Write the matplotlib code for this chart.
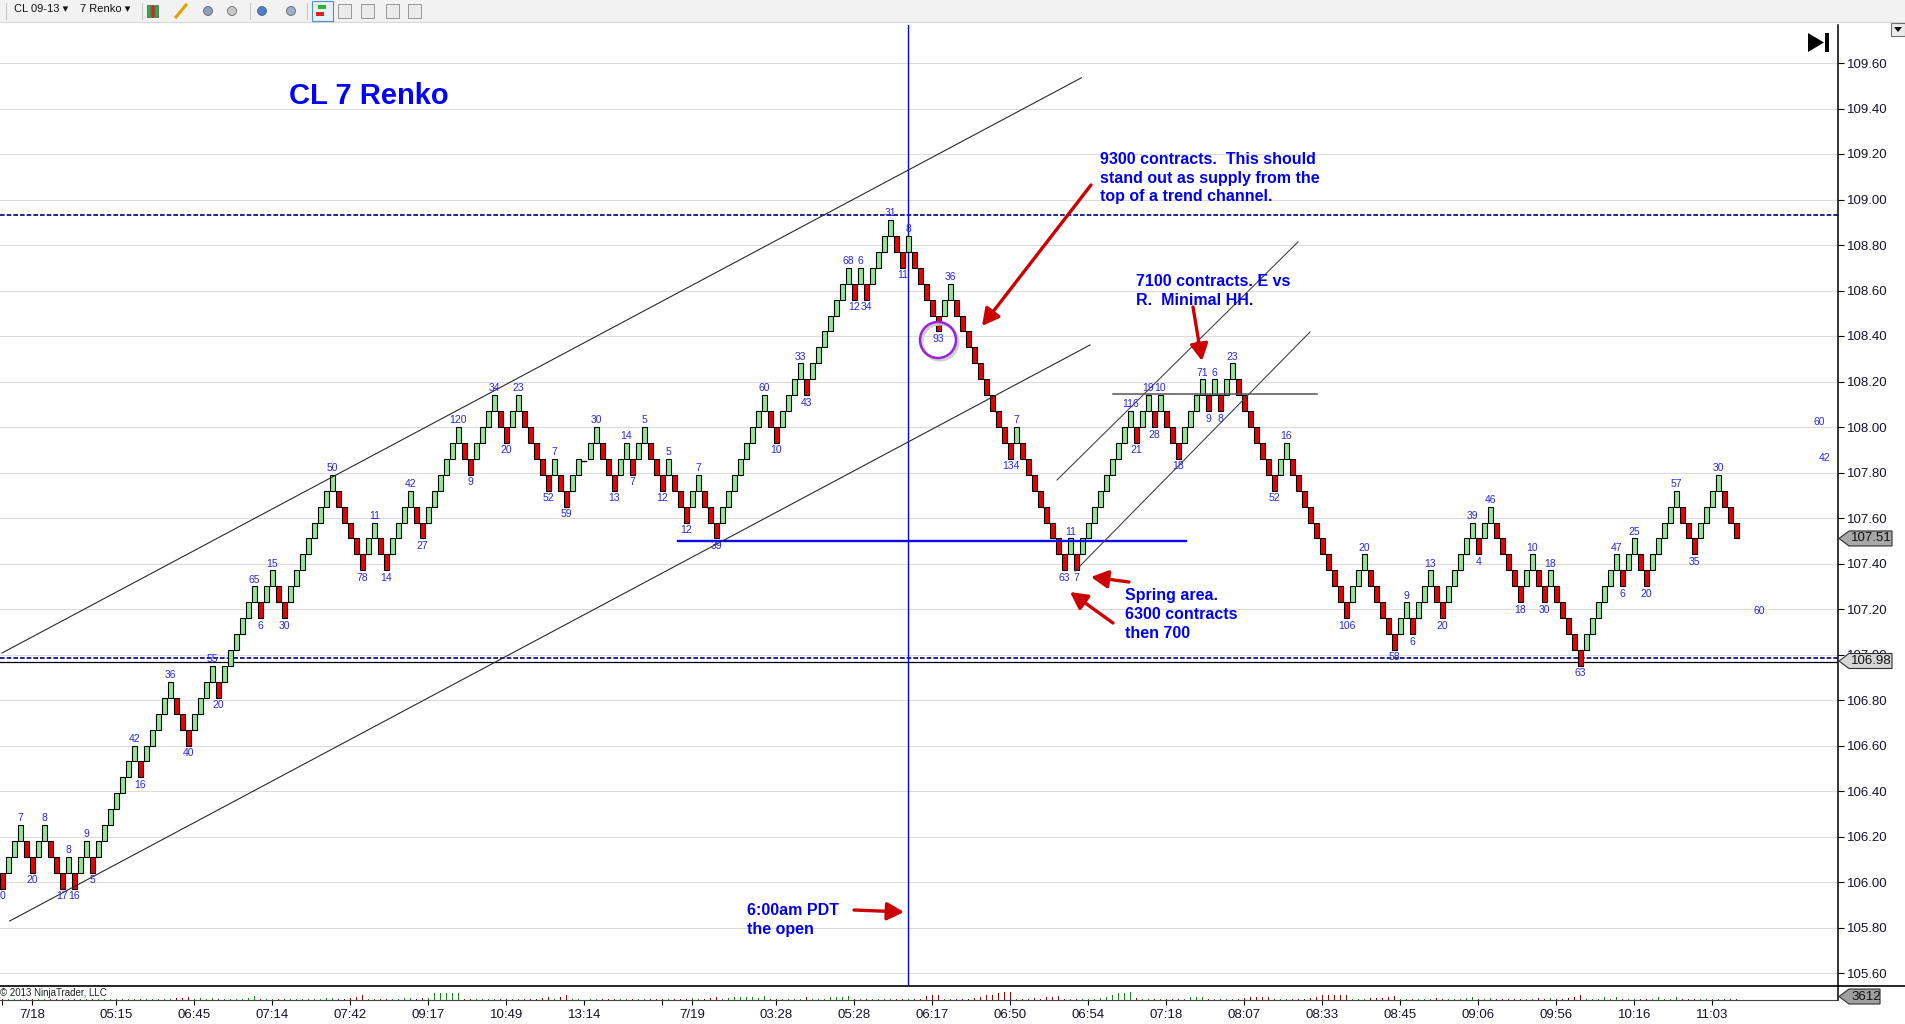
import matplotlib
matplotlib.use("Agg")
import matplotlib.pyplot as plt
from matplotlib.patches import Polygon, Rectangle, Ellipse
from matplotlib.lines import Line2D

plt.rcParams['font.family'] = ['Liberation Sans', 'DejaVu Sans']

# ---------------- data ----------------
brick_size = 0.07
first_open = 106.04          # open of the first (down) brick
# consecutive brick runs: +n = n up bricks, -n = n down bricks, 0 = session gap slot
runs = [-1, 3, -2, 2, -3, 1, -1, 2, -1, 7, -1, 5, -3, 4, -1, 6, -1, 2, -2, 8,
        -5, 2, -2, 4, -2, 6, -2, 4, -2, 2, -5, 1, -2, 2, 0, 2, -3, 2, -1, 2,
        -3, 1, -3, 2, -3, 8, -2, 4, -1, 7, -1, 1, -1, 4, -2, 1, -5, 2, -10, 1,
        -8, 1, -1, 9, -1, 2, -1, 1, -3, 4, -1, 1, -1, 2, -7, 2, -10, 3, -5, 2,
        -1, 3, -2, 5, -1, 2, -5, 2, -2, 1, -5, 6, -1, 2, -2, 5, -3, 4, -3]

label_slots = [1, 4, 6, 8, 11, 12, 13, 15, 16, 23,
               24, 29, 32, 36, 37, 43, 44, 46, 48, 56,
               61, 63, 65, 69, 71, 77, 79, 83, 85, 87,
               92, 93, 95, 100, 103, 105, 106, 108, 111, 112,
               115, 117, 120, 128, 130, 134, 135, 142, 143, 144,
               145, 149, 151, 152, 157, 159, 169, 170, 178, 179,
               180, 189, 190, 192, 193, 194, 197, 201, 202, 203,
               204, 206, 213, 215, 225, 228, 233, 235, 236, 239,
               241, 246, 247, 249, 254, 256, 258, 259, 264, 270,
               271, 273, 275, 280, 283, 287]
label_texts = ["0", "7", "20", "8", "17", "8", "16", "9", "5", "42",
               "16", "36", "40", "55", "20", "65", "6", "15", "30", "50",
               "78", "11", "14", "42", "27", "120", "9", "34", "20", "23",
               "52", "7", "59", "30", "13", "14", "7", "5", "12", "5",
               "12", "7", "39", "60", "10", "33", "43", "68", "12", "6",
               "34", "31", "11", "8", "93", "36", "134", "7", "63", "11",
               "7", "116", "21", "19", "28", "10", "18", "71", "9", "6",
               "8", "23", "52", "16", "106", "20", "58", "9", "6", "13",
               "20", "39", "4", "46", "18", "10", "30", "18", "63", "47",
               "6", "25", "20", "57", "35", "30"]

volume = [900, 900, 900, 900, 900, 900, 900, 900, 900, 900,
          900, 900, 900, 900, 900, 900, 900, 900, 900, 900,
          900, 900, 900, 900, 900, 900, 900, 900, 900, 1300,
          1300, 2100, 900, 1300, 900, 1300, 900, 900, 900, 900,
          900, 1300, 2700, 900, 900, 900, 900, 900, 900, 900,
          900, 900, 900, 900, 1300, 1300, 900, 900, 1300, 2100,
          3400, 900, 900, 900, 900, 900, 900, 1300, 1300, 900,
          1300, 1300, 4300, 4300, 4300, 4300, 4300, 900, 900, 900,
          900, 900, 900, 900, 900, 900, 900, 900, 900, 900,
          1300, 2100, 900, 2100, 2900, 900, 900, 0, 900, 900,
          900, 900, 900, 900, 900, 900, 900, 900, 900, 900,
          900, 900, 900, 900, 900, 1300, 900, 900, 1300, 2100,
          900, 1300, 1700, 2100, 2100, 2100, 1300, 2800, 900, 900,
          900, 900, 900, 900, 1700, 900, 900, 900, 1700, 2100,
          2100, 2800, 900, 900, 900, 900, 900, 900, 900, 900,
          900, 900, 900, 900, 2800, 3400, 3400, 900, 900, 900,
          900, 900, 1300, 2100, 3000, 3400, 4300, 4900, 4900, 900,
          900, 900, 1300, 900, 2100, 2100, 2800, 900, 900, 900,
          900, 900, 900, 1300, 2100, 3400, 4300, 4300, 4900, 1300,
          900, 900, 900, 900, 900, 900, 900, 900, 1700, 1700,
          2100, 900, 900, 900, 900, 900, 900, 1300, 1700, 1700,
          2100, 1700, 900, 900, 900, 900, 900, 900, 1300, 2100,
          2900, 2900, 2900, 2900, 3400, 900, 900, 900, 1300, 1300,
          1300, 2100, 2500, 900, 900, 900, 900, 900, 900, 1300,
          900, 900, 900, 900, 1300, 2100, 900, 900, 1300, 900,
          900, 900, 900, 900, 900, 900, 1300, 900, 1300, 900,
          900, 1300, 2100, 2900, 900, 900, 900, 1700, 900, 2100,
          900, 900, 900, 900, 900, 900, 1700, 900, 900, 2100,
          900, 900, 900, 900, 900, 900, 900, 900, 900, 900]
last_volume = "3612"

tick_slots = [1, 6, 20, 33, 46, 59, 72, 85, 98, 111, 116, 130, 143, 156, 169,
              182, 195, 208, 221, 234, 247, 260, 273, 286]
tick_labels = ["", "7/18", "05:15", "06:45", "07:14", "07:42", "09:17", "10:49",
               "13:14", "", "7/19", "03:28", "05:28", "06:17", "06:50", "06:54",
               "07:18", "08:07", "08:33", "08:45", "09:06", "09:56", "10:16", "11:03"]

price_ticks = [105.60, 105.80, 106.00, 106.20, 106.40, 106.60, 106.80, 107.00,
               107.20, 107.40, 107.60, 107.80, 108.00, 108.20, 108.40, 108.60,
               108.80, 109.00, 109.20, 109.40, 109.60]
price_tick_labels = ["105.60", "105.80", "106.00", "106.20", "106.40", "106.60",
                     "106.80", "107.00", "107.20", "107.40", "107.60", "107.80",
                     "108.00", "108.20", "108.40", "108.60", "108.80", "109.00",
                     "109.20", "109.40", "109.60"]

supply_level = 108.93
support_level = 106.985
support_solid = 106.968
spring_level = 107.50
resist_level = 108.144
open_slot = 152
last_price = "107.51"
support_tag = "106.98"

# ---------------- figure geometry ----------------
W, H = 1905, 1024
fig = plt.figure(figsize=(W / 100, H / 100), dpi=100, facecolor='white')

def fx(px):
    return px / W

def fy(py):
    return 1 - py / H

AX_R = 1838
PANEL_TOP = 25
PANEL_BOT = 986
VOL_BOT = 1000

SLOT_PX = 6.0
X0 = 0.6
PPX = 227.5

def sx(px):
    return X0 + px / SLOT_PX

def py2p(py):
    return 109.60 - (py - 63) / PPX

def p2py(p):
    return 63 + (109.60 - p) * PPX

ax = fig.add_axes([0, fy(PANEL_BOT), fx(AX_R), (PANEL_BOT - PANEL_TOP) / H])
vax = fig.add_axes([0, fy(VOL_BOT), fx(AX_R), (VOL_BOT - PANEL_BOT) / H])

# ---------------- build renko bricks ----------------
slots, lows, ups = [], [], []
gap_slots, gap_levels = [], []
lo, hi = first_open, first_open + brick_size
s = 0
for r in runs:
    if r == 0:
        s += 1
        gap_slots.append(s)
        gap_levels.append(hi)
        continue
    for _ in range(abs(r)):
        s += 1
        if r > 0:
            lo, hi = hi, round(hi + brick_size, 4)
        else:
            lo, hi = round(lo - brick_size, 4), lo
        slots.append(s)
        lows.append(lo)
        ups.append(r > 0)

brick = {sl: (l, u) for sl, l, u in zip(slots, lows, ups)}

GREEN = '#90e890'
RED = '#ee0000'
ax.bar(slots, [brick_size] * len(slots), bottom=lows, width=0.72,
       color=[GREEN if u else RED for u in ups], edgecolor='black',
       linewidth=0.8, zorder=4)
for gs, gl in zip(gap_slots, gap_levels):
    ax.plot([gs - 0.35, gs + 0.35], [gl - 0.01, gl - 0.01], color='black', lw=1, zorder=4)

LBL = '#2626f0'
for sl, t in zip(label_slots, label_texts):
    l, u = brick[sl]
    if u:
        ax.annotate(t, (sl, l + brick_size), xytext=(0, 4.8), textcoords='offset points',
                    ha='center', va='center', fontsize=7.5, color=LBL, zorder=6)
    else:
        ax.annotate(t, (sl, l), xytext=(0, -5.4), textcoords='offset points',
                    ha='center', va='center', fontsize=7.5, color=LBL, zorder=6)

# ---------------- axes styling ----------------
ax.set_xlim(sx(0), sx(AX_R))
ax.set_ylim(py2p(PANEL_BOT), py2p(PANEL_TOP))
ax.set_yticks(price_ticks)
ax.set_yticklabels(price_tick_labels)
ax.yaxis.tick_right()
ax.tick_params(axis='y', direction='out', length=4.3, width=0.8, pad=2,
               labelsize=9.5, labelcolor='#14142a', color='black')
ax.set_xticks([])
ax.yaxis.grid(True, color='#dcdcdc', lw=0.8)
ax.set_axisbelow(True)
for sp in ['left', 'top', 'bottom']:
    ax.spines[sp].set_visible(False)
ax.spines['right'].set_linewidth(1.1)

# ---------------- chart annotations ----------------
NAVY = '#000080'
ax.axhline(supply_level, color=NAVY, lw=1.2, ls=(0, (2.8, 1.2)), zorder=3)
ax.axhline(support_level, color=NAVY, lw=1.2, ls=(0, (2.8, 1.2)), zorder=3)
ax.axhline(support_solid, color='black', lw=0.9, zorder=3)
ax.axvline(open_slot, color='#0000ff', lw=1.0, zorder=3)
ax.plot([sx(678), sx(1186)], [spring_level, spring_level], color='#0a0aee', lw=1.7, zorder=5)

CH = '#2a2a2a'
ax.plot([sx(2), sx(1081.4)], [py2p(653), py2p(77.8)], color=CH, lw=0.8, zorder=5)
ax.plot([sx(9.7), sx(1090)], [py2p(921), py2p(345)], color=CH, lw=0.8, zorder=5)
ax.plot([sx(1057), sx(1298)], [py2p(480), py2p(242)], color='#444444', lw=0.8, zorder=5)
ax.plot([sx(1075), sx(1310)], [py2p(571), py2p(332)], color='#444444', lw=0.8, zorder=5)
ax.plot([sx(1113), sx(1317)], [resist_level, resist_level], color='#555555', lw=1.1, zorder=5)

# circled bar
ax.add_patch(Ellipse((sx(940), py2p(342)), 36 / SLOT_PX, 36 / PPX, fill=False,
                     edgecolor='#cfcfcf', lw=2.2, zorder=5))
ax.add_patch(Ellipse((sx(938), py2p(340)), 36 / SLOT_PX, 36 / PPX, fill=False,
                     edgecolor='#9a22dd', lw=1.8, zorder=6))

ARROW = dict(arrowstyle='-|>,head_length=0.85,head_width=0.45', color='#cc0000',
             lw=2.4, mutation_scale=12, shrinkA=0, shrinkB=0)
for tail, head in [((1091, 185), (982, 326)),
                   ((1193, 307), (1202, 361)),
                   ((1129, 582), (1091, 577)),
                   ((1113, 623), (1070, 592)),
                   ((854, 910), (904, 912))]:
    ax.annotate('', xy=(sx(head[0]), py2p(head[1])), xytext=(sx(tail[0]), py2p(tail[1])),
                arrowprops=ARROW, zorder=7)

BLUE = '#0000f0'
def note(lines, left_px, first_py, step=19.0):
    for i, line in enumerate(lines):
        ax.text(sx(left_px), py2p(first_py + i * step), line, ha='left', va='center',
                fontsize=11.5, fontweight='bold', color=BLUE, zorder=8)

note(["9300 contracts.  This should", "stand out as supply from the",
      "top of a trend channel."], 1100, 159)
note(["7100 contracts. E vs", "R.  Minimal HH."], 1136, 281)
note(["Spring area.", "6300 contracts", "then 700"], 1125, 595)
note(["6:00am PDT", "the open"], 747, 910)

ax.text(sx(369), py2p(96), "CL 7 Renko", ha='center', va='center', fontsize=21,
        fontweight='bold', color='#0000ff', zorder=8)

for t, px, py in [("60", 1819, 422), ("42", 1825, 458), ("60", 1759, 611)]:
    ax.text(sx(px), py2p(py), t, ha='center', va='center', fontsize=7.5, color=LBL)

# ---------------- volume panel ----------------
vcol = []
for i in range(1, len(volume) + 1):
    if i in brick:
        vcol.append('#108a10' if brick[i][1] else '#a00000')
    else:
        vcol.append('none')
vax.bar(range(1, len(volume) + 1), volume, width=0.28, color=vcol, zorder=3)
vax.set_xlim(sx(0), sx(AX_R))
vax.set_ylim(0, 9000)
vax.set_yticks([])
vax.set_xticks(tick_slots)
vax.set_xticklabels(tick_labels)
vax.tick_params(axis='x', length=3.6, width=0.8, pad=3, labelsize=9.5,
                labelcolor='#14142a', color='black')
vax.spines['left'].set_visible(False)
vax.spines['top'].set_visible(False)
vax.spines['bottom'].set_color('#444444')
vax.spines['right'].set_linewidth(1.1)
vax.patch.set_alpha(0)

fig.add_artist(Line2D([0, 1], [fy(PANEL_BOT), fy(PANEL_BOT)], color='black', lw=1.2,
                      transform=fig.transFigure))
fig.text(fx(0), fy(993), "© 2013 NinjaTrader, LLC", fontsize=7, va='center',
         ha='left', color='#202020')

# ---------------- price tags ----------------
def tag(yc, text, fc, xr):
    pts = [(1839, yc), (1849, yc - 7.5), (xr, yc - 7.5), (xr, yc + 7.5), (1849, yc + 7.5)]
    fig.add_artist(Polygon([(fx(a), fy(b)) for a, b in pts], closed=True,
                           transform=fig.transFigure, facecolor=fc,
                           edgecolor='#303030', lw=0.8, zorder=10))
    fig.text(fx(1851), fy(yc), text, fontsize=9.5, va='center', ha='left',
             color='#101010', zorder=11)

tag(p2py(float(last_price)), last_price, '#a8a8a8', 1892)
tag(661, support_tag, '#d6d6d6', 1892)
tag(996.5, last_volume, '#a0a0a0', 1880)

# ---------------- toolbar / chrome ----------------
fig.add_artist(Rectangle((0, fy(22)), 1, 22 / H, transform=fig.transFigure,
                         facecolor='#f2f2f2', edgecolor='none', zorder=1))
fig.add_artist(Line2D([0, 1], [fy(22), fy(22)], color='#d8d8d8', lw=0.8,
                      transform=fig.transFigure))
fig.text(fx(14), fy(9), "CL 09-13 \u25be", fontsize=8, va='center', ha='left', color='#111111')
fig.text(fx(80), fy(9), "7 Renko \u25be", fontsize=8, va='center', ha='left', color='#111111')
for xs in [6, 142, 250, 307]:
    fig.add_artist(Line2D([fx(xs), fx(xs)], [fy(3), fy(19)], color='#c8c8c8', lw=0.8,
                          transform=fig.transFigure))
# small icons
for x0, c in [(147, '#2db52d'), (151, '#e02020'), (155, '#2db52d')]:
    fig.add_artist(Rectangle((fx(x0), fy(17)), 3 / W, 12 / H, transform=fig.transFigure,
                             facecolor=c, edgecolor='#333333', lw=0.4, zorder=2))
fig.add_artist(Line2D([fx(176), fx(186)], [fy(17), fy(5)], color='#e0a000', lw=2.2,
                      transform=fig.transFigure))
for x0, c in [(208, '#8aa0c0'), (232, '#c8c8c8'), (262, '#4a7fd0'), (291, '#9ab0c8')]:
    fig.add_artist(Ellipse((fx(x0), fy(11)), 9 / W, 9 / H, transform=fig.transFigure,
                           facecolor=c, edgecolor='#555555', lw=0.5, zorder=2))
fig.add_artist(Rectangle((fx(312), fy(21)), 21 / W, 20 / H, transform=fig.transFigure,
                         facecolor='#e8f0fa', edgecolor='#4a90d9', lw=0.8, zorder=2))
fig.add_artist(Rectangle((fx(316), fy(16)), 8 / W, 4 / H, transform=fig.transFigure,
                         facecolor='#e02020', edgecolor='none', zorder=3))
fig.add_artist(Rectangle((fx(318), fy(9)), 8 / W, 4 / H, transform=fig.transFigure,
                         facecolor='#2db52d', edgecolor='none', zorder=3))
for x0 in [338, 361, 386, 408]:
    fig.add_artist(Rectangle((fx(x0), fy(18)), 13 / W, 14 / H, transform=fig.transFigure,
                             facecolor='#ebebeb', edgecolor='#8a8a8a', lw=0.6, zorder=2))

# go-to-end button and dropdown
fig.add_artist(Polygon([(fx(1808), fy(33)), (fx(1808), fy(52)), (fx(1824), fy(42.5))],
                       closed=True, transform=fig.transFigure, facecolor='black',
                       edgecolor='none', zorder=10))
fig.add_artist(Rectangle((fx(1825), fy(52)), 3.5 / W, 19 / H, transform=fig.transFigure,
                         facecolor='black', edgecolor='none', zorder=10))
fig.add_artist(Rectangle((fx(1891), fy(36)), 14 / W, 13 / H, transform=fig.transFigure,
                         facecolor='#ececec', edgecolor='#707070', lw=0.8, zorder=10))
fig.add_artist(Polygon([(fx(1894), fy(27)), (fx(1902), fy(27)), (fx(1898), fy(32))],
                       closed=True, transform=fig.transFigure, facecolor='black',
                       edgecolor='none', zorder=11))

fig.savefig("out.png", dpi=100, facecolor='white')
